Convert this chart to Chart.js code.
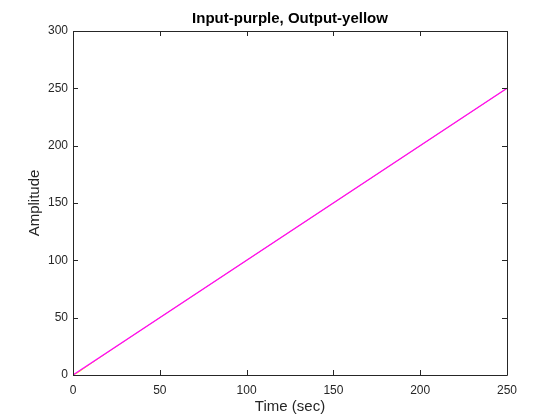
<!DOCTYPE html>
<html>
<head>
<meta charset="utf-8">
<script src="https://cdn.jsdelivr.net/npm/chart.js@4.4.0/dist/chart.umd.min.js"></script>
<style>
  html, body { margin: 0; padding: 0; background: #fff; }
  #wrap { width: 560px; height: 420px; }
</style>
</head>
<body>
<div id="wrap"><canvas id="c" width="560" height="420"></canvas></div>
<script>
// ramp input and the (slightly lagging) system output
const inputTime = [0, 250];
const inputAmp = [0, 250];
const outputTime = [0, 3, 6, 10, 20, 40, 250];
const outputAmp = [0, 2.2, 5.4, 9.6, 19.8, 40, 250];
const xTicks = [0, 50, 100, 150, 200, 250];
const yTicks = [0, 50, 100, 150, 200, 250, 300];

const axisColor = '#262626';
const font = 'Liberation Sans, Arial, Helvetica, sans-serif';

// MATLAB-like box with inward ticks on all four sides
const boxPlugin = {
  id: 'box',
  afterDatasetsDraw(chart) {
    const ctx = chart.ctx;
    const a = chart.chartArea;
    const xs = chart.scales.x, ys = chart.scales.y;
    const len = 5;
    ctx.save();
    ctx.strokeStyle = axisColor;
    ctx.lineWidth = 1;
    ctx.beginPath();
    ctx.rect(Math.round(a.left) + 0.5, Math.round(a.top) + 0.5,
      Math.round(a.right - a.left), Math.round(a.bottom - a.top));
    xTicks.forEach(v => {
      const px = Math.round(xs.getPixelForValue(v)) + 0.5;
      ctx.moveTo(px, a.bottom); ctx.lineTo(px, a.bottom - len);
      ctx.moveTo(px, a.top); ctx.lineTo(px, a.top + len);
    });
    yTicks.forEach(v => {
      const py = Math.round(ys.getPixelForValue(v)) + 0.5;
      ctx.moveTo(a.left, py); ctx.lineTo(a.left + len, py);
      ctx.moveTo(a.right, py); ctx.lineTo(a.right - len, py);
    });
    ctx.stroke();
    ctx.restore();
  }
};

new Chart(document.getElementById('c'), {
  type: 'scatter',
  data: {
    datasets: [
      // first dataset is painted last, so the input sits on top
      {
        label: 'Input',
        data: inputTime.map((t, i) => ({ x: t, y: inputAmp[i] })),
        showLine: true,
        borderColor: '#ff00ff',
        borderWidth: 1.3,
        pointRadius: 0
      },
      {
        label: 'Output',
        data: outputTime.map((t, i) => ({ x: t, y: outputAmp[i] })),
        showLine: true,
        borderColor: '#ffff00',
        borderWidth: 1,
        pointRadius: 0
      }
    ]
  },
  options: {
    responsive: false,
    animation: false,
    layout: { padding: { left: 0, right: 53, top: 0, bottom: 0 } },
    plugins: {
      legend: { display: false },
      tooltip: { enabled: false },
      title: {
        display: true,
        fullSize: false,
        text: 'Input-purple, Output-yellow',
        color: '#000',
        font: { family: font, size: 15, weight: 'bold' },
        padding: { top: 10, bottom: 3 }
      }
    },
    scales: {
      x: {
        type: 'linear',
        min: 0, max: 250,
        afterFit(s) { s.height = 45; },
        afterBuildTicks(s) { s.ticks = xTicks.map(v => ({ value: v })); },
        grid: { display: false, drawTicks: false },
        border: { display: false },
        ticks: { color: axisColor, padding: 8, maxRotation: 0, font: { family: font, size: 12 } },
        title: { display: true, text: 'Time (sec)', color: axisColor, padding: { top: 0, bottom: 4 },
          font: { family: font, size: 15 } }
      },
      y: {
        type: 'linear',
        min: 0, max: 300,
        afterFit(s) { s.width = 73; },
        afterBuildTicks(s) { s.ticks = yTicks.map(v => ({ value: v })); },
        grid: { display: false, drawTicks: false },
        border: { display: false },
        ticks: { color: axisColor, padding: 5, font: { family: font, size: 12 } },
        title: { display: true, text: 'Amplitude', color: axisColor, padding: { top: 26, bottom: 0 },
          font: { family: font, size: 15 } }
      }
    }
  },
  plugins: [boxPlugin]
});
</script>
</body>
</html>
